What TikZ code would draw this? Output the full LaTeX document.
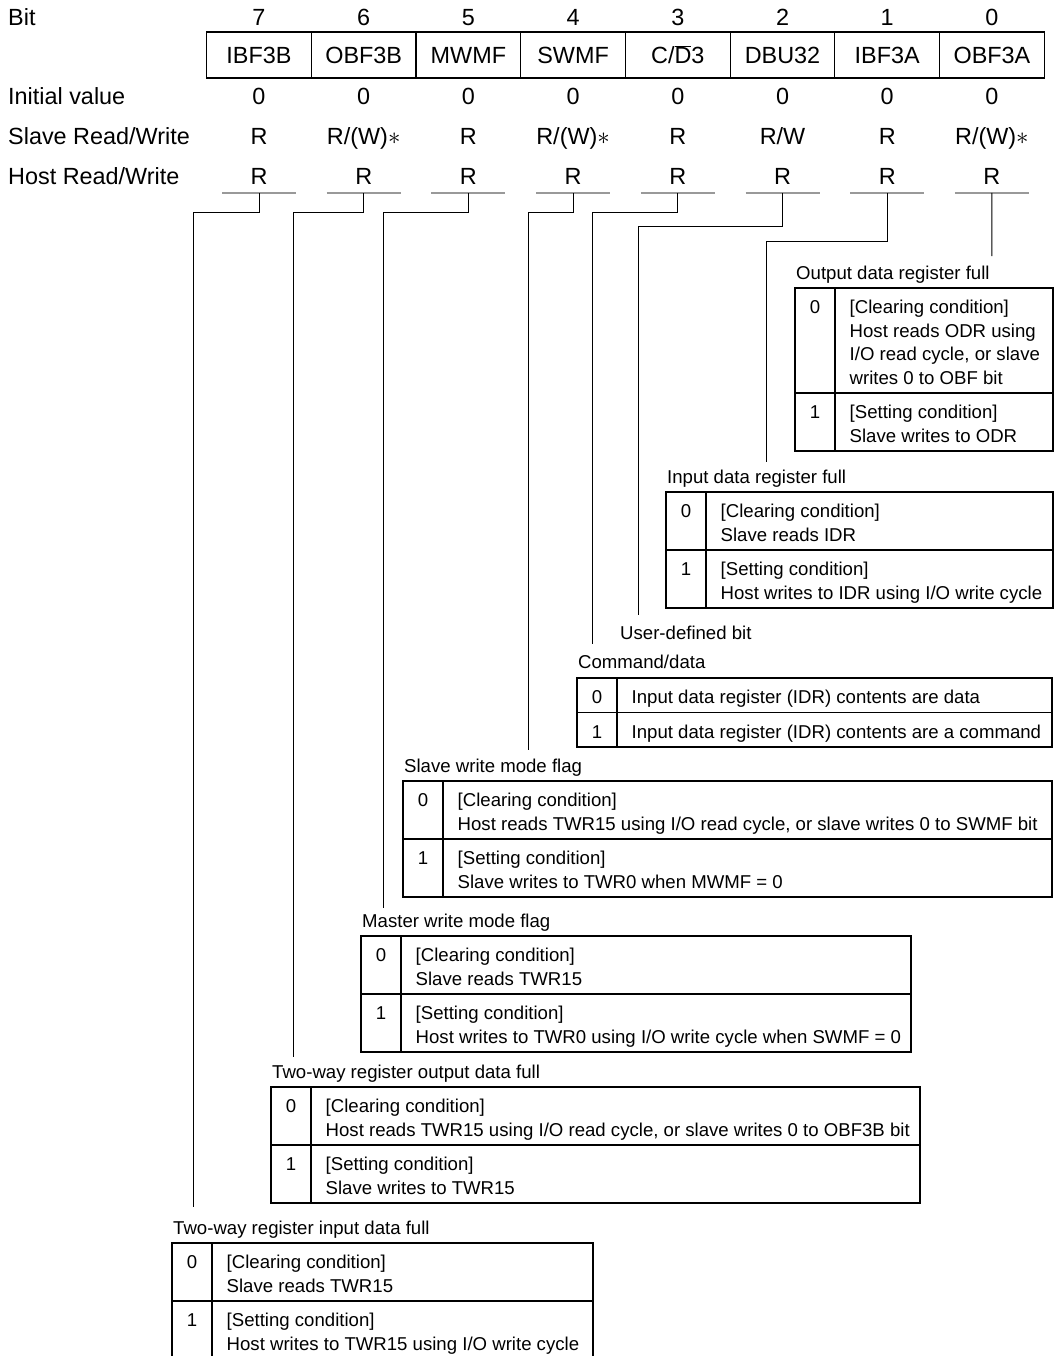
\documentclass[tikz,border=0pt]{standalone}
\usepackage{fontspec}
\setmainfont{Liberation Sans}
\tikzset{
  big/.style={font=\fontsize{23.4}{28}\selectfont, inner sep=0pt},
  sm/.style={font=\fontsize{18.6}{23.5}\selectfont, inner sep=0pt},
  tbl/.style={line width=1.1pt},
  conn/.style={line width=1pt},
  uline/.style={line width=1.2pt, gray!80},
}
\newcommand\regtab[5]{% left, top, right, divider, bottom
  \draw[tbl] (#1,#2) rectangle (#3,#5);
  \draw[tbl] (#1+40,#2) -- (#1+40,#5);
  \draw[tbl] (#1,#4) -- (#3,#4);}
\newcommand\tline[4]{\node[sm,anchor=base west] (#1) at (#2,#3+2) {#4};}
\newcommand\tlab[4]{\node[sm,anchor=base west] (#1) at (#2,#3) {#4};}
\newcommand\tidx[4]{\node[sm,anchor=base] (#1) at (#2,#3+2) {#4};}
\begin{document}
\begin{tikzpicture}[x=1pt,y=-1pt]
\useasboundingbox (0,0) rectangle (1057,1356);

% ---- header rows ----
\node[big,anchor=base west] (lbit)  at (8,25.4)  {Bit};
\node[big,anchor=base west] (linit) at (8,104.4) {Initial value};
\node[big,anchor=base west] (lsl)   at (8,144.4) {Slave Read/Write};
\node[big,anchor=base west] (lho)   at (8,184.4) {Host Read/Write};

\draw[tbl] (206.6,32) rectangle (1044.2,78);
\foreach \k in {1,...,7} {
  \draw[tbl] (206.6+104.7*\k,32) -- (206.6+104.7*\k,78);
}
\foreach \i in {0,...,7} {
  \pgfmathsetmacro\cx{259+104.7*\i}
  \pgfmathtruncatemacro\bn{7-\i}
  \node[big,anchor=base] (bit\bn)  at (\cx,25.4)  {\bn};
  \node[big,anchor=base] (init\bn) at (\cx,104.4) {0};
  \node[big,anchor=base] (host\bn) at (\cx,184.4) {R};
  \coordinate (t\bn) at (\cx,193);
  \draw[uline] (\cx-37,193) -- (\cx+37,193);
}
\node[big,anchor=base] (nm7) at (259,63.4)   {IBF3B};
\node[big,anchor=base] (nm6) at (363.7,63.4) {OBF3B};
\node[big,anchor=base] (nm5) at (468.4,63.4) {MWMF};
\node[big,anchor=base] (nm4) at (573.1,63.4) {SWMF};
\node[big,anchor=base] (nm3) at (677.8,63.4) {C/$\overline{\mbox{D}}$3};
\node[big,anchor=base] (nm2) at (782.5,63.4) {DBU32};
\node[big,anchor=base] (nm1) at (887.2,63.4) {IBF3A};
\node[big,anchor=base] (nm0) at (991.9,63.4) {OBF3A};

\node[big,anchor=base] (sl7) at (259,144.4)   {R};
\node[big,anchor=base] (sl6) at (363.7,144.4) {R/(W)$\ast$};
\node[big,anchor=base] (sl5) at (468.4,144.4) {R};
\node[big,anchor=base] (sl4) at (573.1,144.4) {R/(W)$\ast$};
\node[big,anchor=base] (sl3) at (677.8,144.4) {R};
\node[big,anchor=base] (sl2) at (782.5,144.4) {R/W};
\node[big,anchor=base] (sl1) at (887.2,144.4) {R};
\node[big,anchor=base] (sl0) at (991.9,144.4) {R/(W)$\ast$};

% ---- connectors ----
\coordinate (e0) at (991.9,256);
\coordinate (k1) at (766,242);  \coordinate (e1) at (766,462);
\coordinate (k2) at (638,227);  \coordinate (e2) at (638,615);
\coordinate (k3) at (592,213);  \coordinate (e3) at (592,644);
\coordinate (k4) at (528,213);  \coordinate (e4) at (528,750);
\coordinate (k5) at (383,213);  \coordinate (e5) at (383,908);
\coordinate (k6) at (293,213);  \coordinate (e6) at (293,1057);
\coordinate (k7) at (193,213);  \coordinate (e7) at (193,1207);
\draw[conn] (t0) -- (e0);
\foreach \b in {1,...,7} { \draw[conn] (t\b) |- (k\b) -- (e\b); }

% ---- OBF3A ----
\tlab{la0}{796}{279.7}{Output data register full}
\regtab{795}{288}{1053}{393}{451}
\tidx{a0i0}{815}{311.7}{0}
\tline{a0a}{849.5}{311.7}{[Clearing condition]}
\tline{a0b}{849.5}{335.2}{Host reads ODR using}
\tline{a0c}{849.5}{358.7}{I/O read cycle, or slave}
\tline{a0d}{849.5}{382.2}{writes 0 to OBF bit}
\tidx{a0i1}{815}{416.7}{1}
\tline{a0e}{849.5}{416.7}{[Setting condition]}
\tline{a0f}{849.5}{440.2}{Slave writes to ODR}

% ---- IBF3A ----
\tlab{la1}{667}{483.7}{Input data register full}
\regtab{666}{492}{1053}{550}{608}
\tidx{a1i0}{686}{515.7}{0}
\tline{a1a}{720.5}{515.7}{[Clearing condition]}
\tline{a1b}{720.5}{539.2}{Slave reads IDR}
\tidx{a1i1}{686}{573.7}{1}
\tline{a1c}{720.5}{573.7}{[Setting condition]}
\tline{a1d}{720.5}{597.2}{Host writes to IDR using I/O write cycle}

% ---- DBU32 ----
\tlab{la2}{620}{639.7}{User-defined bit}

% ---- C/D3 ----
\tlab{la3}{578}{668.7}{Command/data}
\regtab{577}{678}{1052}{712.5}{747}
\tidx{a3i0}{597}{701.7}{0}
\tline{a3a}{631.5}{701.7}{Input data register (IDR) contents are data}
\tidx{a3i1}{597}{736.2}{1}
\tline{a3b}{631.5}{736.2}{Input data register (IDR) contents are a command}

% ---- SWMF ----
\tlab{la4}{404}{772.7}{Slave write mode flag}
\regtab{403}{781}{1052}{839}{897}
\tidx{a4i0}{423}{804.7}{0}
\tline{a4a}{457.5}{804.7}{[Clearing condition]}
\tline{a4b}{457.5}{828.2}{Host reads TWR15 using I/O read cycle, or slave writes 0 to SWMF bit}
\tidx{a4i1}{423}{862.7}{1}
\tline{a4c}{457.5}{862.7}{[Setting condition]}
\tline{a4d}{457.5}{886.2}{Slave writes to TWR0 when MWMF = 0}

% ---- MWMF ----
\tlab{la5}{362}{927.7}{Master write mode flag}
\regtab{361}{936}{911}{994}{1052}
\tidx{a5i0}{381}{959.7}{0}
\tline{a5a}{415.5}{959.7}{[Clearing condition]}
\tline{a5b}{415.5}{983.2}{Slave reads TWR15}
\tidx{a5i1}{381}{1017.7}{1}
\tline{a5c}{415.5}{1017.7}{[Setting condition]}
\tline{a5d}{415.5}{1041.2}{Host writes to TWR0 using I/O write cycle when SWMF = 0}

% ---- OBF3B ----
\tlab{la6}{272}{1078.7}{Two-way register output data full}
\regtab{271}{1087}{920}{1145}{1203}
\tidx{a6i0}{291}{1110.7}{0}
\tline{a6a}{325.5}{1110.7}{[Clearing condition]}
\tline{a6b}{325.5}{1134.2}{Host reads TWR15 using I/O read cycle, or slave writes 0 to OBF3B bit}
\tidx{a6i1}{291}{1168.7}{1}
\tline{a6c}{325.5}{1168.7}{[Setting condition]}
\tline{a6d}{325.5}{1192.2}{Slave writes to TWR15}

% ---- IBF3B ----
\tlab{la7}{173}{1234.7}{Two-way register input data full}
\draw[tbl] (172,1356) -- (172,1243) -- (593,1243) -- (593,1356);
\draw[tbl] (212,1243) -- (212,1356);
\draw[tbl] (172,1301) -- (593,1301);
\tidx{a7i0}{192}{1266.7}{0}
\tline{a7a}{226.5}{1266.7}{[Clearing condition]}
\tline{a7b}{226.5}{1290.2}{Slave reads TWR15}
\tidx{a7i1}{192}{1324.7}{1}
\tline{a7c}{226.5}{1324.7}{[Setting condition]}
\tline{a7d}{226.5}{1348.2}{Host writes to TWR15 using I/O write cycle}
\end{tikzpicture}
\end{document}
